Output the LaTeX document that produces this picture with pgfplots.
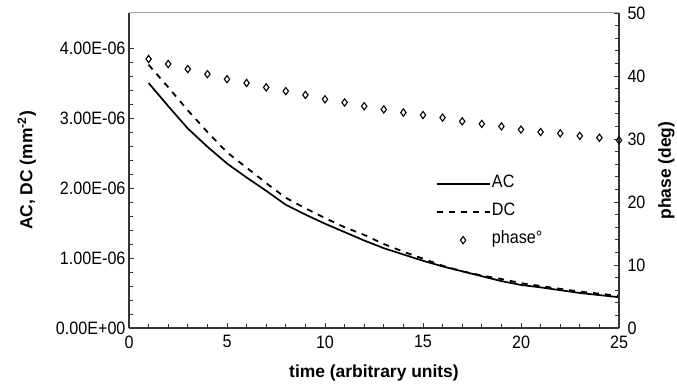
\documentclass[border=0pt]{standalone}
\usepackage{pgfplots}
\pgfplotsset{compat=1.18}
\usepackage{fontspec}
\setmainfont{Liberation Sans}
\newfontfamily\narrowfont[FakeStretch=0.9]{Liberation Sans}
\definecolor{axgray}{gray}{0.2}
\begin{document}
\begin{tikzpicture}
\path[use as bounding box] (-129bp,-57bp) rectangle (548bp,328bp);
\pgfplotsset{
 every axis/.append style={
   scale only axis, width=490bp, height=315bp, at={(0,0)}, anchor=south west,
   xmin=0, xmax=25,
   /pgf/number format/assume math mode=true,
   tick label style={font=\narrowfont\fontsize{18}{21}\selectfont},
   label style={font=\bfseries\fontsize{17.5}{20}\selectfont},
   major tick length=5bp, minor tick length=4.5bp,
   tick style={line width=0.8bp, color=axgray},
   axis line style={line width=1.2bp, color=axgray},
 }
}
\begin{axis}[
  axis x line*=bottom, axis y line*=left,
  ymin=0, ymax=4.5e-6,
  xtick={0,5,...,25}, minor x tick num=4,
  xticklabel style={yshift=-4bp},
  ytick={0,1e-6,2e-6,3e-6,4e-6},
  yticklabels={0.00E+00,1.00E-06,2.00E-06,3.00E-06,4.00E-06},
  scaled y ticks=false,
  minor y tick num=4,
  xlabel={time (arbitrary units)},
  xlabel style={yshift=-10bp},
  ylabel={AC, DC (mm\textsuperscript{-2})},
  ylabel style={yshift=13bp},
]
\draw[gray!70, line width=1bp] (rel axis cs:0,1) -- (rel axis cs:1,1);
\addplot[black, line width=1.7bp, no marks] coordinates {
(1,3.50e-6) (2,3.17e-6) (3,2.85e-6) (4,2.59e-6) (5,2.35e-6) (6,2.15e-6)
(7,1.96e-6) (8,1.76e-6) (9,1.62e-6) (10,1.49e-6) (11,1.37e-6) (12,1.25e-6)
(13,1.14e-6) (14,1.05e-6) (15,0.96e-6) (16,0.88e-6) (17,0.81e-6) (18,0.74e-6)
(19,0.67e-6) (20,0.615e-6) (21,0.58e-6) (22,0.54e-6) (23,0.50e-6) (24,0.47e-6)
(25,0.44e-6)};
\addplot[black, line width=1.8bp, dash pattern=on 6bp off 6bp, no marks] coordinates {
(1,3.76e-6) (2,3.44e-6) (3,3.11e-6) (4,2.80e-6) (5,2.51e-6) (6,2.29e-6)
(7,2.07e-6) (8,1.86e-6) (9,1.71e-6) (10,1.57e-6) (11,1.44e-6) (12,1.33e-6)
(13,1.20e-6) (14,1.09e-6) (15,0.99e-6) (16,0.89e-6) (17,0.81e-6) (18,0.75e-6)
(19,0.70e-6) (20,0.64e-6) (21,0.60e-6) (22,0.56e-6) (23,0.52e-6) (24,0.49e-6)
(25,0.46e-6)};
\end{axis}
\begin{axis}[
  axis x line=none, axis y line*=right,
  ymin=0, ymax=50,
  ytick={0,10,...,50}, minor y tick num=4,
  yticklabel style={xshift=5bp},
  ylabel={phase (deg)},
  ylabel style={yshift=-6bp},
  clip=false,
  legend cell align=left,
  legend style={draw=none, fill=none, at={(axis description cs:0.6255,0.489)},
    anchor=north west, inner sep=0pt, row sep=8bp,
    font=\narrowfont\fontsize{18}{21}\selectfont,
    nodes={inner sep=1.5bp, text height=12bp, text depth=5bp}},
]
\addlegendimage{legend image code/.code={\draw[black, line width=1.7bp] (0bp,0bp) -- (53bp,0bp);}}
\addlegendentry{AC}
\addlegendimage{legend image code/.code={\draw[black, line width=1.8bp, dash pattern=on 6bp off 6bp] (0bp,0bp) -- (53bp,0bp);}}
\addlegendentry{DC}
\addplot[only marks, mark=diamond, mark size=3.6bp, mark options={black, line width=1.1bp, fill=white},
  legend image code/.code={\draw[black, line width=1.1bp, fill=white, mark=diamond, mark size=3.6bp] plot coordinates {(26.5bp,0bp)};}]
coordinates {
(1,42.7) (2,41.9) (3,41.1) (4,40.3) (5,39.5) (6,38.9) (7,38.2) (8,37.6)
(9,37.0) (10,36.3) (11,35.8) (12,35.2) (13,34.7) (14,34.2) (15,33.8)
(16,33.4) (17,32.8) (18,32.4) (19,32.0) (20,31.5) (21,31.1) (22,30.9)
(23,30.5) (24,30.2) (25,29.8)};
\addlegendentry{phase°}
\end{axis}
\end{tikzpicture}
\end{document}
